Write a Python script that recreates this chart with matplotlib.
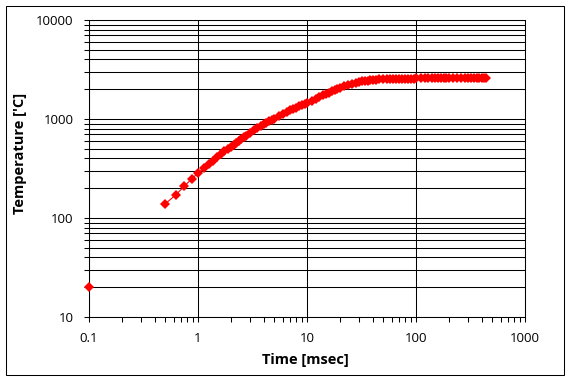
import matplotlib
matplotlib.use("Agg")
import matplotlib.pyplot as plt
from matplotlib.patches import Rectangle
from matplotlib.ticker import LogLocator, NullFormatter

plt.rcParams['font.family'] = ['Open Sans', 'DejaVu Sans']

# Data
time_ms = [0.5, 0.625, 0.75, 0.875, 1.0, 1.125, 1.25, 1.375, 1.5, 1.625, 1.75, 1.875,
           2.0, 2.125, 2.25, 2.375, 2.5, 2.625, 2.75, 3.0, 3.25, 3.5, 3.75, 4.0, 4.25,
           4.5, 4.75, 5.0, 5.5, 6.0, 6.5, 7.0, 7.5, 8.0, 8.5, 9.0, 9.5, 10, 11, 12, 13,
           14, 15, 16, 17, 18, 19, 20, 22, 24, 26, 28, 30, 32, 34, 36, 38, 40, 43, 46,
           50, 54, 58, 62, 66, 70, 75, 80, 85, 90, 95, 100, 110, 120, 130, 140, 150,
           160, 170, 180, 190, 200, 220, 240, 260, 280, 300, 320, 340, 360, 380, 400,
           420, 440]
temp_c = [139, 171, 210, 248, 285, 317, 348, 380, 411, 441, 470, 497,
          523, 549, 575, 601, 626, 651, 676, 725, 773, 817, 851, 883, 915,
          946, 977, 1007, 1064, 1120, 1174, 1222, 1265, 1306, 1345, 1383, 1420, 1455, 1528, 1597, 1663,
          1728, 1790, 1849, 1901, 1953, 2002, 2050, 2142, 2208, 2260, 2309, 2356, 2404, 2422, 2440, 2457, 2473, 2497, 2518,
          2530, 2540, 2548, 2553, 2556, 2558, 2560, 2562, 2563, 2564, 2565, 2566, 2567, 2568, 2570, 2570, 2570,
          2570, 2575, 2570, 2580, 2575, 2600, 2580, 2610, 2585, 2600, 2590, 2615, 2590, 2600, 2585,
          2580, 2575]
start_time = [0.1]
start_temp = [20]

x_ticks = [0.1, 1, 10, 100, 1000]
x_tick_labels = ['0.1', '1', '10', '100', '1000']
y_ticks = [10, 100, 1000, 10000]
y_tick_labels = ['10', '100', '1000', '10000']

W, H = 570, 381
fig = plt.figure(figsize=(W / 100, H / 100), dpi=100)
fig.patch.set_facecolor('white')

ax = fig.add_axes([89 / W, (H - 317) / H, 436 / W, 297 / H])
ax.set_xscale('log')
ax.set_yscale('log')
ax.set_xlim(0.1, 1000)
ax.set_ylim(10, 10000)

red = '#FF0000'
ax.plot(time_ms, temp_c, color=red, lw=0.8, marker='D', ms=4.8,
        markeredgewidth=0, zorder=5)
ax.plot(start_time, start_temp, color=red, lw=0, marker='D', ms=4.8,
        markeredgewidth=0, zorder=5, clip_on=False)

ax.set_xticks(x_ticks)
ax.set_xticklabels(x_tick_labels)
ax.set_yticks(y_ticks)
ax.set_yticklabels(y_tick_labels)
ax.xaxis.set_minor_locator(LogLocator(base=10, subs=range(2, 10), numticks=20))
ax.yaxis.set_minor_locator(LogLocator(base=10, subs=range(2, 10), numticks=20))
ax.xaxis.set_minor_formatter(NullFormatter())
ax.yaxis.set_minor_formatter(NullFormatter())

ax.tick_params(axis='both', which='both', direction='out', length=3.5, width=0.75,
               color='black', labelsize=9.5, labelcolor='black')
ax.tick_params(axis='y', which='both', pad=7.5)
ax.tick_params(axis='x', which='both', pad=7)

ax.grid(True, axis='x', which='major', color='black', lw=0.75)
ax.grid(True, axis='y', which='both', color='black', lw=0.75)
ax.set_axisbelow(True)
for s in ax.spines.values():
    s.set_color('black')
    s.set_linewidth(0.75)

fig.text(305 / W, 1 - 360 / H, 'Time [msec]', ha='center', va='center',
         fontsize=10.5, fontweight='bold')
fig.text(20 / W, 1 - 153 / H, "Temperature ['C]", ha='center', va='center',
         rotation=90, fontsize=10.5, fontweight='bold')

fig.patches.append(Rectangle((5.5 / W, 6.5 / H), 558 / W, 369 / H,
                             transform=fig.transFigure, fill=False,
                             edgecolor='black', lw=0.75))

fig.savefig('out.png', dpi=100)
